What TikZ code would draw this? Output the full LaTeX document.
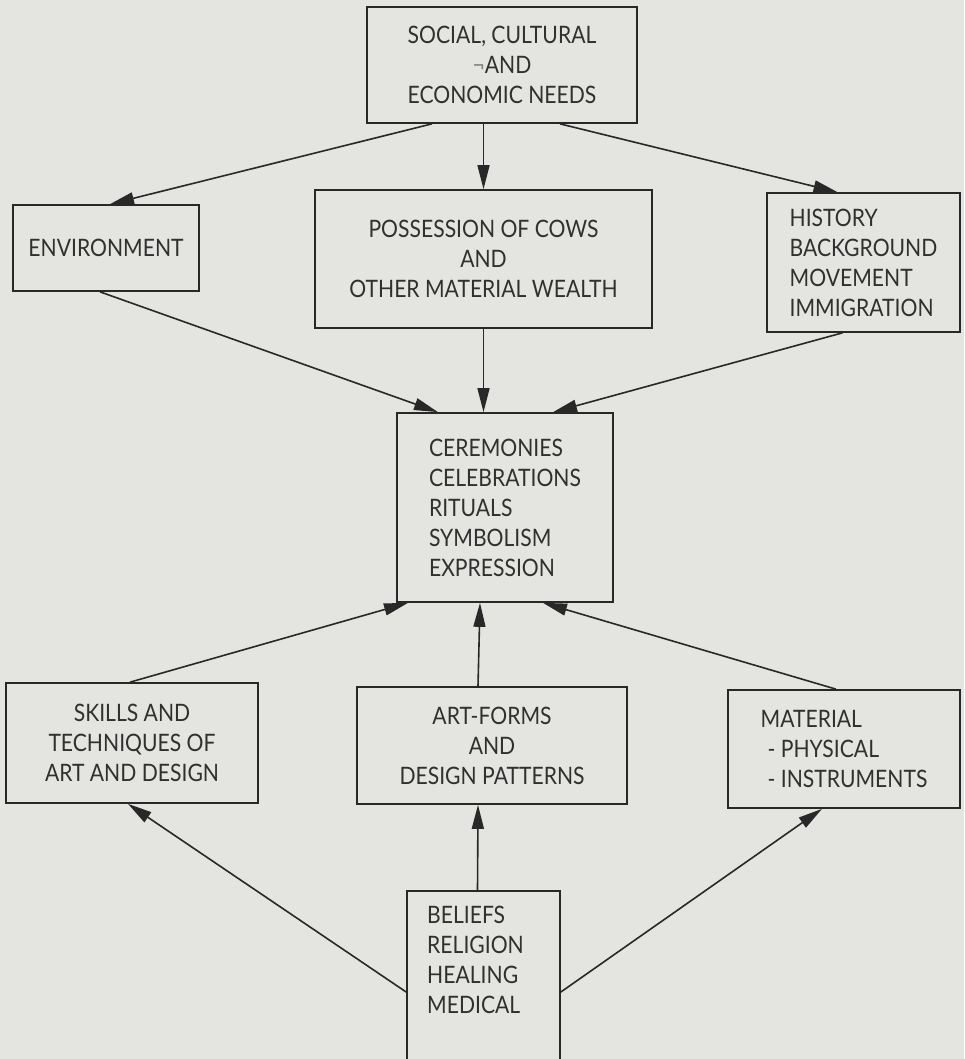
\documentclass[tikz,border=0pt]{standalone}
\usepackage{fontspec}
\setmainfont{Lato}[FakeStretch=0.88]
\usetikzlibrary{arrows.meta}
\definecolor{paper}{RGB}{228,228,225}
\definecolor{ink}{RGB}{40,40,40}
\definecolor{txt}{RGB}{48,48,48}
\begin{document}
\begin{tikzpicture}[x=1pt,y=-1pt,
  box/.style={draw=ink, line width=1.7pt, rectangle, inner sep=0pt, text=txt,
    font=\fontsize{24}{30}\selectfont},
  plain/.style={inner sep=0pt, text=txt, font=\fontsize{24}{30}\selectfont},
  link/.style={draw=ink, line width=1.6pt, -{Triangle[length=24pt,width=12pt]}}]
\useasboundingbox (0,0) rectangle (964,1059);
\fill[paper] (0,0) rectangle (964,1059);
\clip (0,0) rectangle (964,1059);

\node[box, align=center, minimum width=270pt, minimum height=116pt] (top) at (502,65)
  {SOCIAL, CULTURAL\\{\color{txt!60}¬}AND\\ECONOMIC NEEDS};
\node[box, align=center, minimum width=186pt, minimum height=86pt] (env) at (106,248)
  {ENVIRONMENT};
\node[box, align=center, minimum width=337pt, minimum height=138pt] (poss) at (483.5,259)
  {POSSESSION OF COWS\\AND\\OTHER MATERIAL WEALTH};
\node[box, align=left, minimum width=193pt, minimum height=139pt] (hist) at (863.5,262.5)
  {HISTORY\\BACKGROUND\\MOVEMENT\\IMMIGRATION};
\node[box, align=left, minimum width=216pt, minimum height=189pt] (cen) at (505,507.5)
  {CEREMONIES\\CELEBRATIONS\\RITUALS\\SYMBOLISM\\EXPRESSION};
\node[box, align=center, minimum width=252pt, minimum height=120pt] (skl) at (132,743)
  {SKILLS AND\\TECHNIQUES OF\\ART AND DESIGN};
\node[box, align=center, minimum width=270pt, minimum height=117pt] (art) at (492,745.5)
  {ART-FORMS\\AND\\DESIGN PATTERNS};
\node[box, align=left, minimum width=232pt, minimum height=118pt] (mat) at (844,749)
  {MATERIAL\\\hspace*{7pt}- PHYSICAL\\\hspace*{7pt}- INSTRUMENTS};
\node[box, anchor=north, minimum width=153pt, minimum height=200pt] (bel) at (483.5,890) {};
\node[plain, align=left, anchor=north west] (beltxt) at (427,906)
  {BELIEFS\\RELIGION\\HEALING\\MEDICAL};

\draw[link] (top.south -| poss.north) -- (poss.north);
\draw[link] ([xshift=-70pt]top.south) -- ([xshift=4pt]env.north);
\draw[link] ([xshift=58pt]top.south) -- ([xshift=-26pt]hist.north);
\draw[link] ([xshift=-6pt]env.south) -- ([xshift=-67pt]cen.north);
\draw[link] (poss.south) -- (poss.south |- cen.north);
\draw[link] ([xshift=-21pt]hist.south) -- ([xshift=48pt]cen.north);
\draw[link] ([xshift=-2pt]skl.north) -- ([xshift=-97pt]cen.south);
\draw[link] ([xshift=-14pt]art.north) -- ([xshift=-25pt]cen.south);
\draw[link] ([xshift=-8pt]mat.north) -- ([xshift=38pt]cen.south);
\draw[link] ([yshift=-102pt]bel.north west) -- ([xshift=-4pt]skl.south);
\draw[link] ([xshift=-6pt]bel.north) -- ([xshift=-14pt]art.south);
\draw[link] ([yshift=-102pt]bel.north east) -- ([xshift=-22pt]mat.south);
\end{tikzpicture}
\end{document}
